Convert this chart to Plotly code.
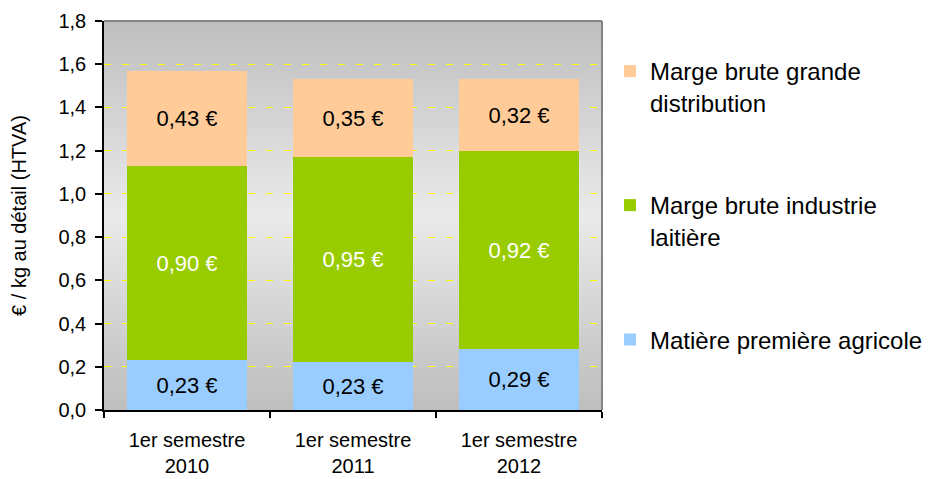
import plotly.graph_objects as go

categories = ["1er semestre<br>2010", "1er semestre<br>2011", "1er semestre<br>2012"]
matiere = [0.23, 0.22, 0.28]
matiere_labels = ["0,23 €", "0,23 €", "0,29 €"]
industrie = [0.90, 0.95, 0.92]
industrie_labels = ["0,90 €", "0,95 €", "0,92 €"]
distribution = [0.44, 0.36, 0.33]
distribution_labels = ["0,43 €", "0,35 €", "0,32 €"]
y_ticks = [0.0, 0.2, 0.4, 0.6, 0.8, 1.0, 1.2, 1.4, 1.6, 1.8]
y_tick_text = ["0,0", "0,2", "0,4", "0,6", "0,8", "1,0", "1,2", "1,4", "1,6", "1,8"]

FONT = "Liberation Sans, Arial, sans-serif"

fig = go.Figure()
fig.add_trace(go.Bar(
    x=categories, y=matiere, name="Matière première agricole",
    marker=dict(color="#99CCFF", line=dict(width=0)),
    text=matiere_labels, textposition="inside", insidetextanchor="middle",
    textfont=dict(color="black", size=22, family=FONT), constraintext="none",
    textangle=0, legend="legend3", hoverinfo="skip"))
fig.add_trace(go.Bar(
    x=categories, y=industrie, name="Marge brute industrie<br>laitière",
    marker=dict(color="#99CC00", line=dict(width=0)),
    text=industrie_labels, textposition="inside", insidetextanchor="middle",
    textfont=dict(color="white", size=22, family=FONT), constraintext="none",
    textangle=0, legend="legend2", hoverinfo="skip"))
fig.add_trace(go.Bar(
    x=categories, y=distribution, name="Marge brute grande<br>distribution",
    marker=dict(color="#FFCC99", line=dict(width=0)),
    text=distribution_labels, textposition="inside", insidetextanchor="middle",
    textfont=dict(color="black", size=22, family=FONT), constraintext="none",
    textangle=0, legend="legend", hoverinfo="skip"))

# gradient background (grey -> light -> grey)
shapes = []
n = 90
top_c = (190, 190, 190)
mid_c = (234, 234, 234)
for i in range(n):
    t0 = i / n
    t1 = (i + 1) / n
    tm = (t0 + t1) / 2
    f = 1 - abs(tm - 0.5) * 2  # 0 at edges, 1 at centre
    c = tuple(int(round(top_c[k] + (mid_c[k] - top_c[k]) * f)) for k in range(3))
    shapes.append(dict(type="rect", xref="x domain", yref="y domain",
                       x0=0, x1=1, y0=t0, y1=t1 + 0.002, layer="below",
                       line=dict(width=0), fillcolor="rgb(%d,%d,%d)" % c))
# top and right border
shapes.append(dict(type="line", xref="x domain", yref="y domain", x0=0, x1=1, y0=1, y1=1,
                   line=dict(color="#858585", width=2), layer="above"))
shapes.append(dict(type="line", xref="x domain", yref="y domain", x0=1, x1=1, y0=0, y1=1,
                   line=dict(color="#858585", width=2), layer="above"))

legend_common = dict(
    font=dict(family=FONT, size=24, color="black"),
    bgcolor="rgba(0,0,0,0)", borderwidth=0,
    xanchor="left", yanchor="top", valign="top", itemclick=False, itemdoubleclick=False,
)

fig.update_layout(
    width=928, height=479,
    margin=dict(l=104, r=326, t=21, b=69, autoexpand=False),
    paper_bgcolor="white", plot_bgcolor="#d8d8d8",
    barmode="stack", bargap=0.28,
    font=dict(family=FONT, size=20, color="black"),
    separators=", ",
    shapes=shapes,
    showlegend=True,
    legend=dict(x=1.016, y=0.928, **legend_common),
    legend2=dict(x=1.016, y=0.5835, **legend_common),
    legend3=dict(x=1.016, y=0.238, **legend_common),
    xaxis=dict(
        type="category", showgrid=False, showline=True, linecolor="black", linewidth=1.5,
        ticks="outside", tickson="boundaries", ticklen=6, tickcolor="black", tickwidth=1.5,
        tickfont=dict(family=FONT, size=20, color="black"),
        ticklabelstandoff=11, automargin=False,
        fixedrange=True,
    ),
    yaxis=dict(
        range=[0, 1.8], tickvals=y_ticks, ticktext=y_tick_text,
        showline=True, linecolor="black", linewidth=1.5,
        ticks="outside", ticklen=7, tickcolor="black", tickwidth=1.5,
        showgrid=True, gridcolor="#FFFF00", gridwidth=1, griddash="7px,11px",
        zeroline=False, automargin=False, ticklabelstandoff=5,
        tickfont=dict(family=FONT, size=20, color="black"),
        title=dict(text="€ / kg au détail (HTVA)", font=dict(family=FONT, size=20, color="black"),
                   standoff=26),
        fixedrange=True,
    ),
)

fig.write_html(
    "out.html",
    config={"displayModeBar": False},
    post_script="document.body.style.margin='0';document.body.style.overflow='hidden';",
)
